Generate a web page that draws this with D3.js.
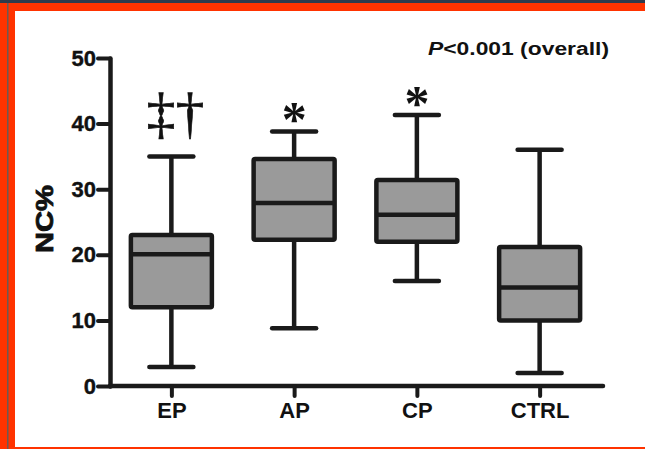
<!DOCTYPE html>
<html>
<head>
<meta charset="utf-8">
<script src="https://cdn.jsdelivr.net/npm/d3@7"></script>
<style>
html,body{margin:0;padding:0;background:#fff;}
svg{display:block;}
text{font-family:"Liberation Sans",Arial,sans-serif;font-weight:bold;fill:#111;}
</style>
</head>
<body>
<svg id="chart" width="645" height="449"></svg>
<script>
// ---- data ----
const categories = ["EP", "AP", "CP", "CTRL"];
const whiskerMin = [2.9, 8.8, 16.0, 2.0];
const q1Values   = [12.0, 22.3, 22.0, 10.0];
const medians    = [20.1, 27.9, 26.1, 15.0];
const q3Values   = [23.0, 34.6, 31.4, 21.2];
const whiskerMax = [35.0, 38.8, 41.3, 36.0];
const annotations = ["‡†", "*", "*", ""];
const yTicks = [0, 10, 20, 30, 40, 50];
const yTitle = "NC%";
const pText = "<0.001 (overall)";

const svg = d3.select("#chart");

// frame
svg.append("rect").attr("x",0).attr("y",0).attr("width",645).attr("height",449).attr("fill","#ff3300");
svg.append("rect").attr("x",0).attr("y",0).attr("width",645).attr("height",3).attr("fill","#2e3b4c");
svg.append("rect").attr("x",7).attr("y",3).attr("width",1.5).attr("height",446).attr("fill","#6b5a55");
svg.append("rect").attr("x",15).attr("y",11).attr("width",630).attr("height",436).attr("fill","#ffffff");

const x = d3.scalePoint().domain(categories).range([110, 601]).padding(0.5);
const y = d3.scaleLinear().domain([0, 50]).range([386, 58]);
const boxW = 81, capW = 44;
const ink = "#1a1a1a";

// y axis
const yAxis = svg.append("g").attr("transform","translate(110,0)")
  .call(d3.axisLeft(y).tickValues(yTicks).tickSize(12).tickPadding(2).tickSizeOuter(0));
yAxis.select(".domain").attr("stroke",ink).attr("stroke-width",4.5).attr("stroke-linecap","round");
yAxis.selectAll(".tick line").attr("stroke",ink).attr("stroke-width",4).attr("stroke-linecap","round");
yAxis.selectAll(".tick text").attr("font-size",22).attr("fill","#111")
  .attr("font-family","Liberation Sans, Arial, sans-serif").attr("font-weight","bold")
  .attr("stroke","#111").attr("stroke-width",0.4);

// x axis
const xAxis = svg.append("g").attr("transform","translate(0,386)")
  .call(d3.axisBottom(x).tickSize(10).tickPadding(6).tickSizeOuter(0));
xAxis.select(".domain").attr("d","M110,0H603").attr("stroke",ink).attr("stroke-width",4.5).attr("stroke-linecap","round");
xAxis.selectAll(".tick line").attr("stroke",ink).attr("stroke-width",4).attr("stroke-linecap","round");
xAxis.selectAll(".tick text").attr("font-size",22).attr("fill","#111")
  .attr("font-family","Liberation Sans, Arial, sans-serif").attr("font-weight","bold");

// boxes
const data = categories.map((c,i)=>({c, lo:whiskerMin[i], q1:q1Values[i], med:medians[i], q3:q3Values[i], hi:whiskerMax[i], ann:annotations[i]}));
const g = svg.append("g");
const b = g.selectAll("g.box").data(data).join("g").attr("class","box");
b.append("line").attr("x1",d=>x(d.c)).attr("x2",d=>x(d.c)).attr("y1",d=>y(d.hi)).attr("y2",d=>y(d.lo))
  .attr("stroke",ink).attr("stroke-width",4.5);
b.append("line").attr("x1",d=>x(d.c)-capW/2).attr("x2",d=>x(d.c)+capW/2).attr("y1",d=>y(d.hi)).attr("y2",d=>y(d.hi))
  .attr("stroke",ink).attr("stroke-width",4.5).attr("stroke-linecap","round");
b.append("line").attr("x1",d=>x(d.c)-capW/2).attr("x2",d=>x(d.c)+capW/2).attr("y1",d=>y(d.lo)).attr("y2",d=>y(d.lo))
  .attr("stroke",ink).attr("stroke-width",4.5).attr("stroke-linecap","round");
b.append("rect").attr("x",d=>x(d.c)-boxW/2).attr("width",boxW).attr("y",d=>y(d.q3)).attr("height",d=>y(d.q1)-y(d.q3))
  .attr("fill","#9a9a9a").attr("stroke",ink).attr("stroke-width",4.5).attr("stroke-linejoin","round").attr("rx",1.5);
b.append("line").attr("x1",d=>x(d.c)-boxW/2).attr("x2",d=>x(d.c)+boxW/2).attr("y1",d=>y(d.med)).attr("y2",d=>y(d.med))
  .attr("stroke",ink).attr("stroke-width",4.5);

// significance marks
b.filter(d=>d.ann.length>1).append("text")
  .attr("x",d=>x(d.c)+4).attr("y",d=>y(d.hi)-24)
  .attr("text-anchor","middle").attr("font-size",58)
  .style("font-family","Liberation Serif, Times New Roman, serif").style("font-weight","normal")
  .attr("stroke","#111").attr("stroke-width",0.6)
  .text(d=>d.ann);
b.filter(d=>d.ann==="*").append("text")
  .attr("x",d=>x(d.c)).attr("y",d=>y(d.hi)+5)
  .attr("text-anchor","middle").attr("font-size",50)
  .style("font-family","Liberation Serif, Times New Roman, serif").style("font-weight","bold")
  .text(d=>d.ann);

// y title
svg.append("text").attr("transform","translate(53,219) rotate(-90)")
  .attr("text-anchor","middle").attr("font-size",23)
  .attr("stroke","#111").attr("stroke-width",0.8)
  .attr("textLength",68).attr("lengthAdjust","spacingAndGlyphs")
  .text(yTitle);

// p-value
const pt = svg.append("text").attr("x",428).attr("y",55).attr("font-size",17.5)
  .attr("textLength",181).attr("lengthAdjust","spacingAndGlyphs");
pt.append("tspan").attr("font-style","italic").text("P");
pt.append("tspan").text(pText);
</script>
</body>
</html>
